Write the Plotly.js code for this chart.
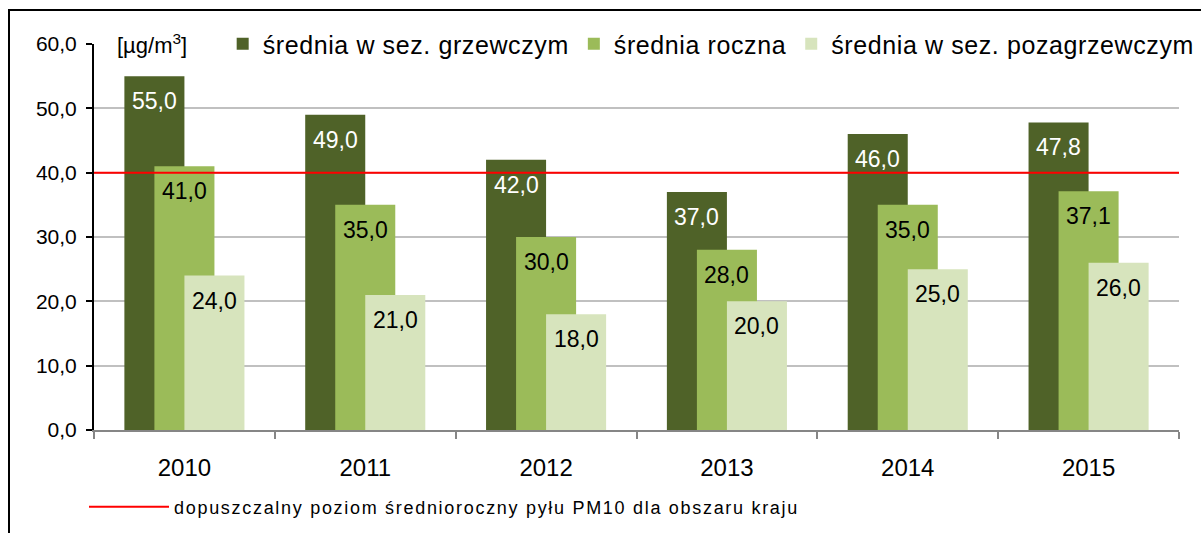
<!DOCTYPE html>
<html><head><meta charset="utf-8">
<script src="https://cdn.plot.ly/plotly-3.0.1.min.js"></script>
<style>html,body{margin:0;padding:0;background:#fff}</style>
</head><body>
<div id="chart" style="width:1201px;height:533px"></div>
<script>
const years = ['2010','2011','2012','2013','2014','2015'];
const heatingSeason = [55.0, 49.0, 42.0, 37.0, 46.0, 47.8];
const annualMean = [41.0, 35.0, 30.0, 28.0, 35.0, 37.1];
const nonHeatingSeason = [24.0, 21.0, 18.0, 20.0, 25.0, 26.0];
const seriesNames = ['średnia w sez. grzewczym', 'średnia roczna', 'średnia w sez. pozagrzewczym'];
const limitValue = 40;
const limitName = 'dopuszczalny poziom średnioroczny pyłu PM10 dla obszaru kraju';
const unitLabel = '[µg/m<sup>3</sup>]';

const seriesValues = [heatingSeason, annualMean, nonHeatingSeason];
const seriesColors = ['#4F6228', '#9BBB59', '#D7E4BD'];
const labelColors = ['#FFFFFF', '#000000', '#000000'];
const FONT = 'Liberation Sans, Arial, sans-serif';
const spaced = (s, px) => '<span style="letter-spacing:' + px + 'px">' + s + '</span>';

const barWidth = 0.332;
const barStep = 0.166;

const traces = seriesValues.map((vals, i) => ({
  type: 'bar',
  name: spaced(seriesNames[i], 0.6),
  x: years,
  y: vals,
  width: barWidth,
  offset: -barWidth + i * barStep,
  marker: {color: seriesColors[i], line: {width: 0}},
  legend: 'legend',
  hoverinfo: 'x+y'
}));

traces.push({
  type: 'scatter',
  mode: 'lines',
  name: spaced(limitName, 1.7),
  x: [0, 1],
  y: [limitValue, limitValue],
  xaxis: 'x2',
  line: {color: '#FF0000', width: 2},
  legend: 'legend2'
});

const fmt = v => v.toFixed(1).replace('.', ',');
const annotations = [];
seriesValues.forEach((vals, i) => {
  vals.forEach((v, j) => {
    annotations.push({
      xref: 'x', yref: 'y',
      x: j - barStep + i * barStep,
      y: v,
      yanchor: 'top', xanchor: 'center',
      yshift: -10,
      showarrow: false,
      text: fmt(v),
      font: {family: FONT, size: 23, color: labelColors[i]}
    });
  });
});
annotations.push({
  xref: 'paper', yref: 'paper',
  x: (115 - 94) / 1085, y: 1,
  xanchor: 'left', yanchor: 'middle',
  showarrow: false,
  bgcolor: '#FFFFFF',
  text: unitLabel,
  font: {family: FONT, size: 22, color: '#000000'}
});

const layout = {
  width: 1201, height: 533,
  margin: {l: 94, r: 22, t: 44, b: 103, pad: 0, autoexpand: false},
  paper_bgcolor: '#FFFFFF', plot_bgcolor: '#FFFFFF',
  font: {family: FONT, color: '#000000'},
  separators: ', ',
  barmode: 'overlay',
  showlegend: true,
  xaxis: {
    type: 'category',
    range: [-0.5, 5.5],
    tickson: 'boundaries',
    ticks: 'outside', ticklen: 7, tickwidth: 2, tickcolor: '#868686',
    showline: true, linecolor: '#868686', linewidth: 2,
    showgrid: false, zeroline: false,
    tickfont: {family: FONT, size: 24, color: '#000000'},
    ticklabelstandoff: 15
  },
  xaxis2: {overlaying: 'x', range: [0, 1], visible: false},
  yaxis: {
    range: [0, 60], dtick: 10, tick0: 0,
    tickformat: '.1f',
    ticks: 'outside', ticklen: 6, tickwidth: 2, tickcolor: '#000000',
    showline: true, linecolor: '#000000', linewidth: 2,
    showgrid: true, gridcolor: '#C0C0C0', gridwidth: 2,
    zeroline: false,
    tickfont: {family: FONT, size: 21, color: '#000000'},
    ticklabelstandoff: 5
  },
  legend: {
    orientation: 'h',
    x: 0.1186, xanchor: 'left',
    y: 1, yanchor: 'middle',
    bgcolor: '#FFFFFF',
    font: {family: FONT, size: 25, color: '#000000'},
    traceorder: 'normal'
  },
  legend2: {
    orientation: 'h',
    x: (84 - 94) / 1085, xanchor: 'left',
    y: (430 - 507) / 386, yanchor: 'middle',
    bgcolor: 'rgba(0,0,0,0)',
    itemwidth: 80,
    font: {family: FONT, size: 18, color: '#000000'}
  },
  annotations: annotations,
  shapes: [{
    type: 'rect', xref: 'paper', yref: 'paper',
    x0: (9 - 94) / 1085, x1: 1.05,
    y0: -0.35, y1: (430 - 10) / 386,
    line: {color: '#000000', width: 2},
    fillcolor: 'rgba(0,0,0,0)',
    layer: 'above'
  }]
};

Plotly.newPlot('chart', traces, layout, {displayModeBar: false, responsive: false});
</script>
</body></html>
